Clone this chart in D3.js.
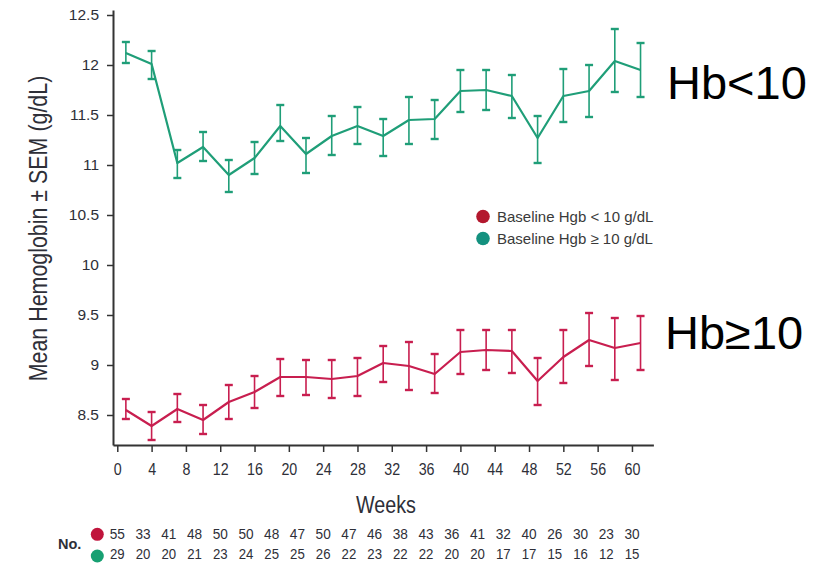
<!DOCTYPE html>
<html>
<head>
<meta charset="utf-8">
<script src="https://cdn.jsdelivr.net/npm/d3@7/dist/d3.min.js"></script>
<style>
  html, body { margin: 0; padding: 0; background: #ffffff; }
  svg { display: block; }
  text { font-family: "Liberation Sans", Arial, Helvetica, sans-serif; }
</style>
</head>
<body>
<svg id="chart" width="830" height="563"></svg>
<script>
// Visit weeks
const weeks = [1, 4, 7, 10, 13, 16, 19, 22, 25, 28, 31, 34, 37, 40, 43, 46, 49, 52, 55, 58, 61];

// Baseline Hgb >= 10 g/dL (green) : mean and SEM bounds
const highMean  = [12.12, 12.01, 11.02, 11.18, 10.90, 11.07, 11.39, 11.11, 11.29, 11.39, 11.29, 11.45, 11.46, 11.74, 11.75, 11.69, 11.27, 11.69, 11.74, 12.04, 11.95];
const highUpper = [12.23, 12.14, 11.15, 11.33, 11.05, 11.23, 11.60, 11.27, 11.49, 11.58, 11.46, 11.68, 11.65, 11.95, 11.95, 11.90, 11.49, 11.96, 12.00, 12.36, 12.22];
const highLower = [12.02, 11.86, 10.87, 11.04, 10.73, 10.91, 11.24, 10.92, 11.10, 11.21, 11.09, 11.21, 11.26, 11.53, 11.55, 11.47, 11.02, 11.43, 11.48, 11.73, 11.68];

// Baseline Hgb < 10 g/dL (red) : mean and SEM bounds
const lowMean  = [8.55, 8.39, 8.56, 8.45, 8.63, 8.73, 8.88, 8.88, 8.86, 8.89, 9.02, 8.99, 8.91, 9.13, 9.15, 9.14, 8.84, 9.08, 9.25, 9.17, 9.22];
const lowUpper = [8.66, 8.53, 8.71, 8.60, 8.80, 8.89, 9.06, 9.05, 9.05, 9.07, 9.19, 9.23, 9.11, 9.35, 9.35, 9.35, 9.07, 9.35, 9.52, 9.47, 9.49];
const lowLower = [8.46, 8.25, 8.43, 8.31, 8.46, 8.57, 8.69, 8.70, 8.67, 8.69, 8.83, 8.75, 8.72, 8.91, 8.95, 8.92, 8.60, 8.82, 8.99, 8.85, 8.95];

// Patients at risk
const nLow  = [55, 33, 41, 48, 50, 50, 48, 47, 50, 47, 46, 38, 43, 36, 41, 32, 40, 26, 30, 23, 30];
const nHigh = [29, 20, 20, 21, 23, 24, 25, 25, 26, 22, 23, 22, 22, 20, 20, 17, 17, 15, 16, 12, 15];

const xTicks = [0, 4, 8, 12, 16, 20, 24, 28, 32, 36, 40, 44, 48, 52, 56, 60];
const yTicks = [8.5, 9, 9.5, 10, 10.5, 11, 11.5, 12, 12.5];

const legendLabels = ["Baseline Hgb < 10 g/dL", "Baseline Hgb \u2265 10 g/dL"];
const groupLabels = ["Hb<10", "Hb\u226510"];

const colors = {
  high: "#1f9e78",
  low: "#c81e4f",
  legendLow: "#b3182e",
  legendHigh: "#14917f",
  axis: "#333333",
  text: "#2e2f38"
};

// Horizontal squeeze used for the condensed labels
const condense = 0.84;

const svg = d3.select("#chart");

const x = d3.scaleLinear().domain([-0.5, 62.5]).range([113, 653.4]);
const y = d3.scaleLinear().domain([8.2, 12.55]).range([445, 10]);

// Y axis
const yAxis = svg.append("g")
  .attr("transform", `translate(${x(-0.5)},0)`)
  .call(d3.axisLeft(y).tickValues(yTicks).tickSize(6).tickPadding(8)
    .tickFormat(d => d3.format("")(d)).tickSizeOuter(0));
yAxis.select(".domain").attr("stroke", colors.axis).attr("stroke-width", 2);
yAxis.selectAll(".tick line").attr("stroke", colors.axis).attr("stroke-width", 1.5);
yAxis.selectAll(".tick text")
  .attr("fill", colors.text)
  .style("font-family", "'Liberation Sans', Arial, sans-serif")
  .style("font-size", "15.5px");

// X axis
const xAxis = svg.append("g")
  .attr("transform", `translate(0,${y(8.2)})`)
  .call(d3.axisBottom(x).tickValues(xTicks).tickSize(7).tickPadding(11).tickSizeOuter(0));
xAxis.select(".domain").attr("stroke", colors.axis).attr("stroke-width", 2);
xAxis.selectAll(".tick line").attr("stroke", colors.axis).attr("stroke-width", 1.5);
xAxis.selectAll(".tick text")
  .attr("fill", colors.text)
  .style("font-family", "'Liberation Sans', Arial, sans-serif")
  .style("font-size", "17px")
  .attr("transform", `scale(${condense},1)`);

// Axis titles
svg.append("text")
  .attr("transform", `translate(47,228.5) rotate(-90) scale(${condense},1)`)
  .attr("text-anchor", "middle")
  .attr("fill", colors.text)
  .style("font-size", "25.5px")
  .text("Mean Hemoglobin \u00b1 SEM (g/dL)");

svg.append("text")
  .attr("transform", `translate(386,513) scale(${condense},1)`)
  .attr("text-anchor", "middle")
  .attr("fill", colors.text)
  .style("font-size", "23.5px")
  .text("Weeks");

// Series with SEM error bars
function drawSeries(mean, upper, lower, color) {
  const g = svg.append("g");
  const rows = weeks.map((w, i) => ({ w, m: mean[i], hi: upper[i], lo: lower[i] }));
  g.selectAll("line.bar").data(rows).join("line")
    .attr("x1", d => x(d.w)).attr("x2", d => x(d.w))
    .attr("y1", d => y(d.hi)).attr("y2", d => y(d.lo))
    .attr("stroke", color).attr("stroke-width", 1.6);
  const capHalf = 4;
  g.selectAll("line.capTop").data(rows).join("line")
    .attr("x1", d => x(d.w) - capHalf).attr("x2", d => x(d.w) + capHalf)
    .attr("y1", d => y(d.hi)).attr("y2", d => y(d.hi))
    .attr("stroke", color).attr("stroke-width", 2.4);
  g.selectAll("line.capBot").data(rows).join("line")
    .attr("x1", d => x(d.w) - capHalf).attr("x2", d => x(d.w) + capHalf)
    .attr("y1", d => y(d.lo)).attr("y2", d => y(d.lo))
    .attr("stroke", color).attr("stroke-width", 2.4);
  g.append("path")
    .datum(rows)
    .attr("fill", "none")
    .attr("stroke", color)
    .attr("stroke-width", 2.2)
    .attr("stroke-linejoin", "round")
    .attr("d", d3.line().x(d => x(d.w)).y(d => y(d.m)));
}
drawSeries(highMean, highUpper, highLower, colors.high);
drawSeries(lowMean, lowUpper, lowLower, colors.low);

// Legend
const legend = svg.append("g");
[[colors.legendLow, legendLabels[0]], [colors.legendHigh, legendLabels[1]]].forEach(([c, t], i) => {
  const cy = 216.5 + i * 22;
  legend.append("circle").attr("cx", 483).attr("cy", cy).attr("r", 6.8).attr("fill", c);
  legend.append("text")
    .attr("x", 497).attr("y", cy + 5.3)
    .attr("fill", "#3a3a3a")
    .style("font-size", "15px")
    .text(t);
});

// Group labels at right
svg.append("text")
  .attr("x", 667).attr("y", 99)
  .style("font-size", "47px")
  .attr("fill", "#000")
  .text(groupLabels[0]);
svg.append("text")
  .attr("x", 665).attr("y", 349)
  .style("font-size", "47px")
  .attr("fill", "#000")
  .text(groupLabels[1]);

// Numbers at risk
const nx = i => x(i * 3);
svg.append("text")
  .attr("x", 58).attr("y", 548.5)
  .attr("fill", colors.text)
  .style("font-weight", "bold")
  .style("font-size", "14.5px")
  .text("No.");
svg.append("circle").attr("cx", 97.3).attr("cy", 534.3).attr("r", 6.5).attr("fill", "#c0143c");
svg.append("circle").attr("cx", 97.3).attr("cy", 556).attr("r", 6.5).attr("fill", "#17a072");
svg.append("g").selectAll("text").data(nLow).join("text")
  .attr("transform", (d, i) => `translate(${nx(i)},539) scale(0.88,1)`)
  .attr("text-anchor", "middle")
  .attr("fill", colors.text)
  .style("font-size", "15.5px")
  .text(d => d);
svg.append("g").selectAll("text").data(nHigh).join("text")
  .attr("transform", (d, i) => `translate(${nx(i)},559) scale(0.88,1)`)
  .attr("text-anchor", "middle")
  .attr("fill", colors.text)
  .style("font-size", "15px")
  .text(d => d);
</script>
</body>
</html>
